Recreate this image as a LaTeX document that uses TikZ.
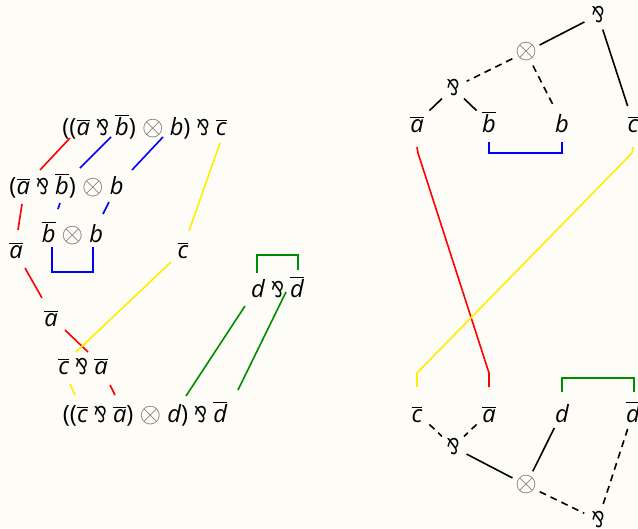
\documentclass[tikz,border=0pt]{standalone}
\usepackage{fontspec}
\setmainfont{Open Sans}
\newfontfamily\symfont{DejaVu Sans}
\definecolor{bgc}{RGB}{254,252,247}
\definecolor{yel}{RGB}{255,238,0}
\definecolor{grn}{RGB}{0,140,0}
\definecolor{tgray}{RGB}{105,105,105}
\newcommand{\mypar}{{\symfont\upshape\scalebox{0.7}[0.92]{⅋}}}
\newcommand{\mytens}{{\color{tgray}\scalebox{1.2}{\ensuremath{\otimes}}}}
\newcommand{\opc}[1]{\makebox[0pt]{\sbox0{#1}\raisebox{\dimexpr(\dp0-\ht0)/2\relax}[0pt][0pt]{\usebox0}}}
\newcommand{\ob}[1]{\ensuremath{\overline{\hbox{\itshape #1}}}}
\newcommand{\iv}[1]{{\itshape #1}}
\tikzset{
  txt/.style={font=\fontsize{17.8}{20}\selectfont, inner sep=0pt, anchor=base},
  opnode/.style={circle, inner sep=0pt, minimum size=22.5pt, font=\fontsize{17.8}{20}\selectfont},
  letnode/.style={circle, inner sep=0pt, minimum size=25.5pt, text height=14.25pt, text depth=0pt, anchor=base, font=\fontsize{17.8}{20}\selectfont},
  ln/.style={line width=1.2pt},
  dsh/.style={line width=1.2pt, dash pattern=on 5.2pt off 3.8pt},
}
\begin{document}
\begin{tikzpicture}[x=0.75pt,y=-0.75pt]
\useasboundingbox (0,0) rectangle (638,528);
\fill[bgc] (0,0) rectangle (638,528);
\clip (0,0) rectangle (638,528);

% ---------- left diagram ----------
\node[txt] (t1) at (144.5,135) {((\ob{a} \mypar\ \ob{b}) \mytens\ \iv{b}) \mypar\ \ob{c}};
\node[txt] (t2) at (66.5,194) {(\ob{a} \mypar\ \ob{b}) \mytens\ \iv{b}};
\node[txt] (t3) at (72.5,242) {\ob{b} \mytens\ \iv{b}};
\node[txt] (la1) at (16,258) {\ob{a}};
\node[txt] (lc1) at (183,258) {\ob{c}};
\node[txt] (la2) at (51,326) {\ob{a}};
\node[txt] (t4) at (83,374) {\ob{c} \mypar\ \ob{a}};
\node[txt] (t5) at (145,422) {((\ob{c} \mypar\ \ob{a}) \mytens\ \iv{d}) \mypar\ \ob{d}};
\node[txt] (t6) at (277.5,297) {\iv{d} \mypar\ \ob{d}};

% red
\coordinate (r1) at (70,138); \coordinate (r2) at (40,170);
\coordinate (r3) at (22,204); \coordinate (r4) at (18,230);
\coordinate (r5) at (25,268); \coordinate (r6) at (42,298);
\coordinate (r7) at (65,330); \coordinate (r8) at (88,352);
\coordinate (r9) at (110,385); \coordinate (r10) at (115,395);
\draw[ln,red] (r1)--(r2) (r3)--(r4) (r5)--(r6) (r7)--(r8) (r9)--(r10);
% blue
\coordinate (b1) at (111,137); \coordinate (b2) at (80,168);
\coordinate (b3) at (163,137); \coordinate (b4) at (132,170);
\coordinate (b5) at (60,203); \coordinate (b6) at (58,209);
\coordinate (b7) at (109,202); \coordinate (b8) at (103,214);
\draw[ln,blue] (b1)--(b2) (b3)--(b4) (b5)--(b6) (b7)--(b8);
\coordinate (bk1) at (52,247); \coordinate (bk2) at (93,247);
\draw[ln,blue] (bk1) -- ++(0,25) -| (bk2);
% yellow
\coordinate (y1) at (220,143); \coordinate (y2) at (189,231);
\coordinate (y3) at (171,262); \coordinate (y4) at (76,352);
\coordinate (y5) at (70,384); \coordinate (y6) at (75,395);
\draw[ln,yel] (y1)--(y2) (y3)--(y4) (y5)--(y6);
% green
\coordinate (g1) at (245,306); \coordinate (g2) at (186,396);
\coordinate (g3) at (286,292); \coordinate (g4) at (238,390);
\draw[ln,grn] (g1)--(g2) (g3)--(g4);
\coordinate (gk1) at (257,273); \coordinate (gk2) at (298,270);
\draw[ln,grn] (gk1) -- (257,255) -| (gk2);

% ---------- right diagram (top) ----------
\node[opnode] (rP1) at (598,15) {\opc{\mypar}};
\node[opnode] (rT1) at (526,52) {\opc{\mytens}};
\node[opnode] (rP2) at (453,88) {\opc{\mypar}};
\node[letnode] (ra) at (417,132) {\ob{a}};
\node[letnode] (rbb) at (489,132) {\ob{b}};
\node[letnode] (rb) at (562,132) {\iv{b}};
\node[letnode] (rc) at (633,132) {\ob{c}};
\draw[ln] (rP1)--(rT1);
\draw[ln] (rP1)--(rc);
\draw[dsh] (rT1)--(rP2);
\draw[dsh] (rT1)--(rb);
\draw[ln] (rP2)--(ra);
\draw[ln] (rP2)--(rbb);
\coordinate (rbk1) at (489,142); \coordinate (rbk2) at (562,142);
\draw[ln,blue] (rbk1) -- ++(0,11) -| (rbk2);

% ---------- right diagram (bottom) ----------
\node[letnode] (rc2) at (417,422) {\ob{c}};
\node[letnode] (ra2) at (489,422) {\ob{a}};
\node[letnode] (rd) at (562,422) {\iv{d}};
\node[letnode] (rdd) at (633,422) {\ob{d}};
\node[opnode] (rP3) at (453,447) {\opc{\mypar}};
\node[opnode] (rT2) at (526,485) {\opc{\mytens}};
\node[opnode] (rP4) at (598,520) {\opc{\mypar}};
\draw[dsh] (rc2)--(rP3);
\draw[dsh] (ra2)--(rP3);
\draw[ln] (rP3)--(rT2);
\draw[ln] (rd)--(rT2);
\draw[dsh] (rT2)--(rP4);
\draw[dsh] (rdd)--(rP4);
\coordinate (gb1) at (562,392); \coordinate (gb2) at (634,392);
\draw[ln,grn] (gb1) -- ++(0,-14) -| (gb2);

% long crossing lines
\coordinate (lr1) at (417,147); \coordinate (lr2) at (489,387);
\draw[ln,red] (lr1) -- (418,153) -- (489,373) -- (lr2);
\coordinate (ly1) at (633,147); \coordinate (ly2) at (417,387);
\draw[ln,yel] (ly1) -- (632,153) -- (417,373) -- (ly2);
\end{tikzpicture}
\end{document}
